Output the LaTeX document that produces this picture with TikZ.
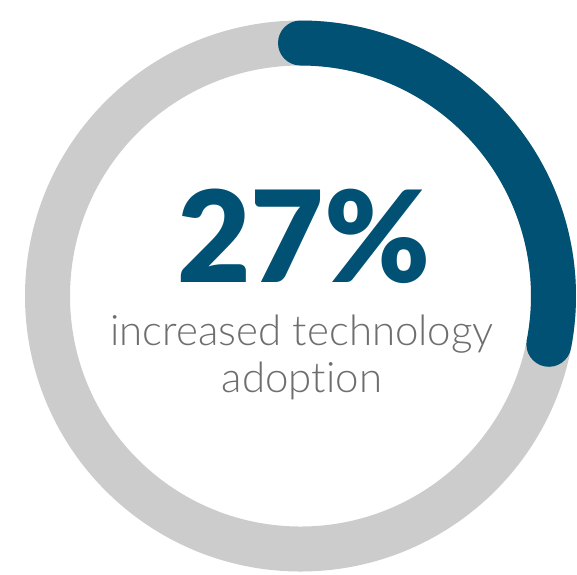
\documentclass[tikz,border=0pt]{standalone}
\usepackage{fontspec}
\setmainfont{Lato}
\newfontfamily\lightfont{Lato Light}[Ligatures={NoCommon,NoDiscretionary}]
\newfontfamily\blackfont{Lato Black}
\definecolor{ringgray}{HTML}{CCCCCC}
\definecolor{ringblue}{HTML}{005174}
\definecolor{txtgray}{HTML}{6E6E6E}
\begin{document}
\begin{tikzpicture}[x=1pt,y=-1pt,
  ring/.style={line width=45pt},
  big/.style={font=\blackfont\fontsize{127}{127}\selectfont, text=ringblue, inner sep=0pt},
  sub/.style={font=\lightfont\fontsize{42}{42}\selectfont, text=txtgray, inner sep=0pt}]
\useasboundingbox (0,0) rectangle (577,574);
\coordinate (c) at (300.5,296);
\draw[ring, ringgray] (c) circle[radius=253];
\draw[ring, ringblue, line cap=round] (300.5,43) arc[start angle=-90, end angle=11, radius=253];
\node[big, anchor=base] (pct) at (304,282) {27\%};
\node[sub, anchor=base] (l1) at (302,345) {increased technology};
\node[sub, anchor=base] (l2) at (302,392) {adoption};
\end{tikzpicture}
\end{document}
